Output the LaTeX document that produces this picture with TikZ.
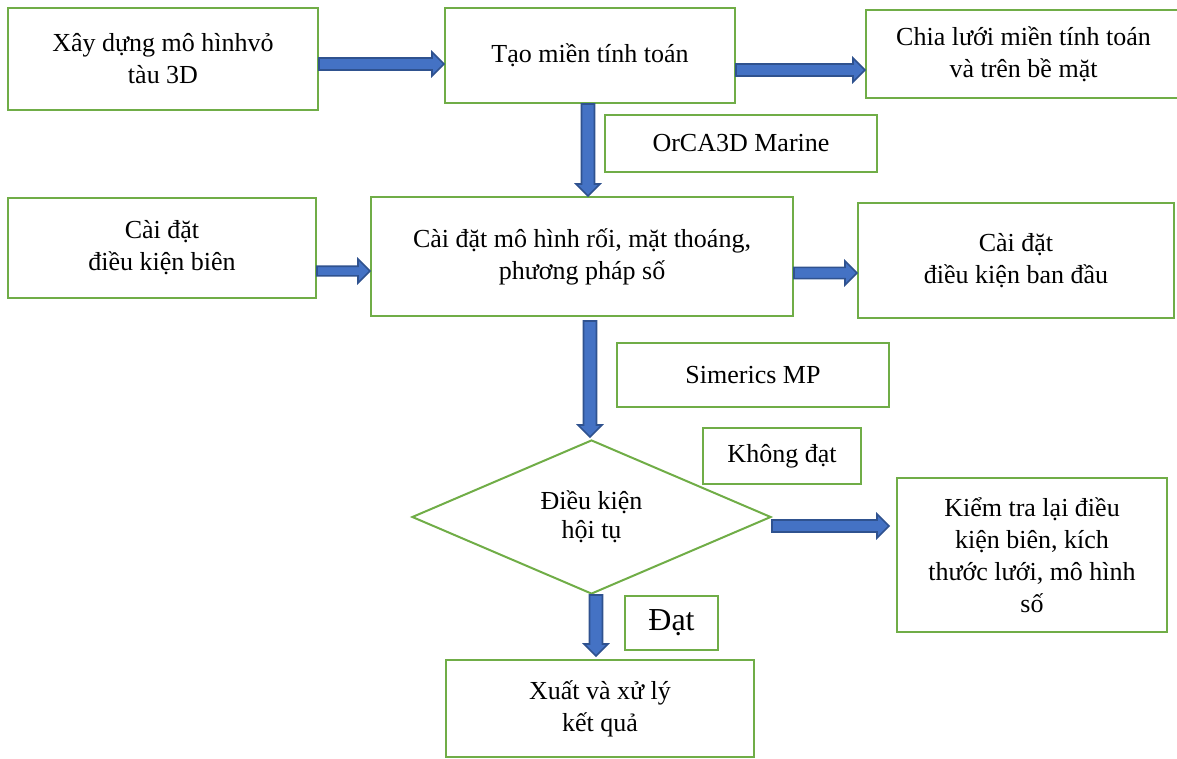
\documentclass[tikz,border=0pt]{standalone}
\usepackage{fontspec}
\setmainfont{Liberation Serif}
\usetikzlibrary{shapes.geometric,calc}
\definecolor{boxgreen}{HTML}{70AD47}
\definecolor{arrowblue}{HTML}{4472C4}
\definecolor{arrowedge}{HTML}{2F528F}
\tikzset{
	stepbox/.style={draw=boxgreen, line width=1pt, align=center, inner sep=0pt,
		font=\fontsize{13}{16}\selectfont},
	fatarrow/.style={fill=arrowblue, draw=arrowedge, line width=0.8pt, line join=miter}
}
\newcommand{\headl}{6pt}
% #1 half shaft width, #2 start, #3 tip
\newcommand{\fatarr}[3][3pt]{%
	\coordinate (fa-s) at (#2);
	\coordinate (fa-e) at (#3);
	\coordinate (fa-h) at ($(fa-e)!\headl!(fa-s)$);
	\filldraw[fatarrow] ($(fa-s)!#1!90:(fa-e)$) -- ($(fa-h)!#1!-90:(fa-s)$)
		-- ($(fa-h)!6pt!-90:(fa-s)$) -- (fa-e) -- ($(fa-h)!6pt!90:(fa-s)$)
		-- ($(fa-h)!#1!90:(fa-s)$) -- ($(fa-s)!#1!-90:(fa-e)$) -- cycle;}
\begin{document}
\begin{tikzpicture}[x=0.5pt, y=-0.5pt]
\useasboundingbox (0,0) rectangle (1177,759);

\node[stepbox, minimum width=155pt, minimum height=51pt] (model) at (163,59) {Xây dựng mô hìnhvỏ\\tàu 3D};
\node[stepbox, minimum width=145pt, minimum height=47.5pt] (domain) at (590,55.5) {Tạo miền tính toán};
\node[stepbox, minimum width=157.5pt, minimum height=44pt] (mesh) at (1023.5,54) {Chia lưới miền tính toán\\và trên bề mặt};
\node[stepbox, minimum width=136pt, minimum height=28.5pt] (orca) at (741,143.5) {OrCA3D Marine};
\node[stepbox, minimum width=154pt, minimum height=50pt] (bc) at (162,248) {Cài đặt\\điều kiện biên};
\node[stepbox, minimum width=211pt, minimum height=59.5pt] (setup) at (582,256.5) {Cài đặt mô hình rối, mặt thoáng,\\phương pháp số};
\node[stepbox, minimum width=158pt, minimum height=57.5pt] (ic) at (1016,260.5) {Cài đặt\\điều kiện ban đầu};
\node[stepbox, minimum width=136pt, minimum height=32pt] (sim) at (753,375) {Simerics MP};
\node[stepbox, minimum width=79pt, minimum height=28pt] (fail) at (782,456) {Không đạt};
\node[stepbox, diamond, minimum width=179.5pt, minimum height=77pt, font=\fontsize{13}{14.5}\selectfont] (conv) at (591.5,517) {Điều kiện\\hội tụ};
\node[stepbox, minimum width=135pt, minimum height=77pt] (check) at (1032,555) {Kiểm tra lại điều\\kiện biên, kích\\thước lưới, mô hình\\số};
\node[stepbox, minimum width=46.5pt, minimum height=27pt, font=\fontsize{16}{18}\selectfont] (pass) at (671.5,623) {Đạt};
\node[stepbox, minimum width=154pt, minimum height=48.5pt] (result) at (600,708.5) {Xuất và xử lý\\kết quả};

\fatarr{[yshift=-2.5pt]model.east}{[yshift=-4.25pt]domain.west}
\fatarr{[yshift=-7.25pt]domain.east}{[yshift=-8pt]mesh.west}
\fatarr[3.25pt]{[xshift=-1pt]domain.south}{[xshift=3pt]setup.north}
\fatarr[2.4pt]{[yshift=-11.5pt]bc.east}{[yshift=-7.25pt]setup.west}
\fatarr[2.8pt]{[yshift=-8.25pt]setup.east}{[yshift=-6.25pt]ic.west}
\fatarr[3.25pt]{[xshift=4pt,yshift=-2pt]setup.south}{[xshift=-0.75pt,yshift=1pt]conv.north}
\fatarr{[yshift=-4.5pt]conv.east}{[xshift=-3.5pt,yshift=14.5pt]check.west}
\fatarr[3.25pt]{[xshift=2.25pt]conv.south}{[xshift=-2pt,yshift=1.5pt]result.north}

\end{tikzpicture}
\end{document}
